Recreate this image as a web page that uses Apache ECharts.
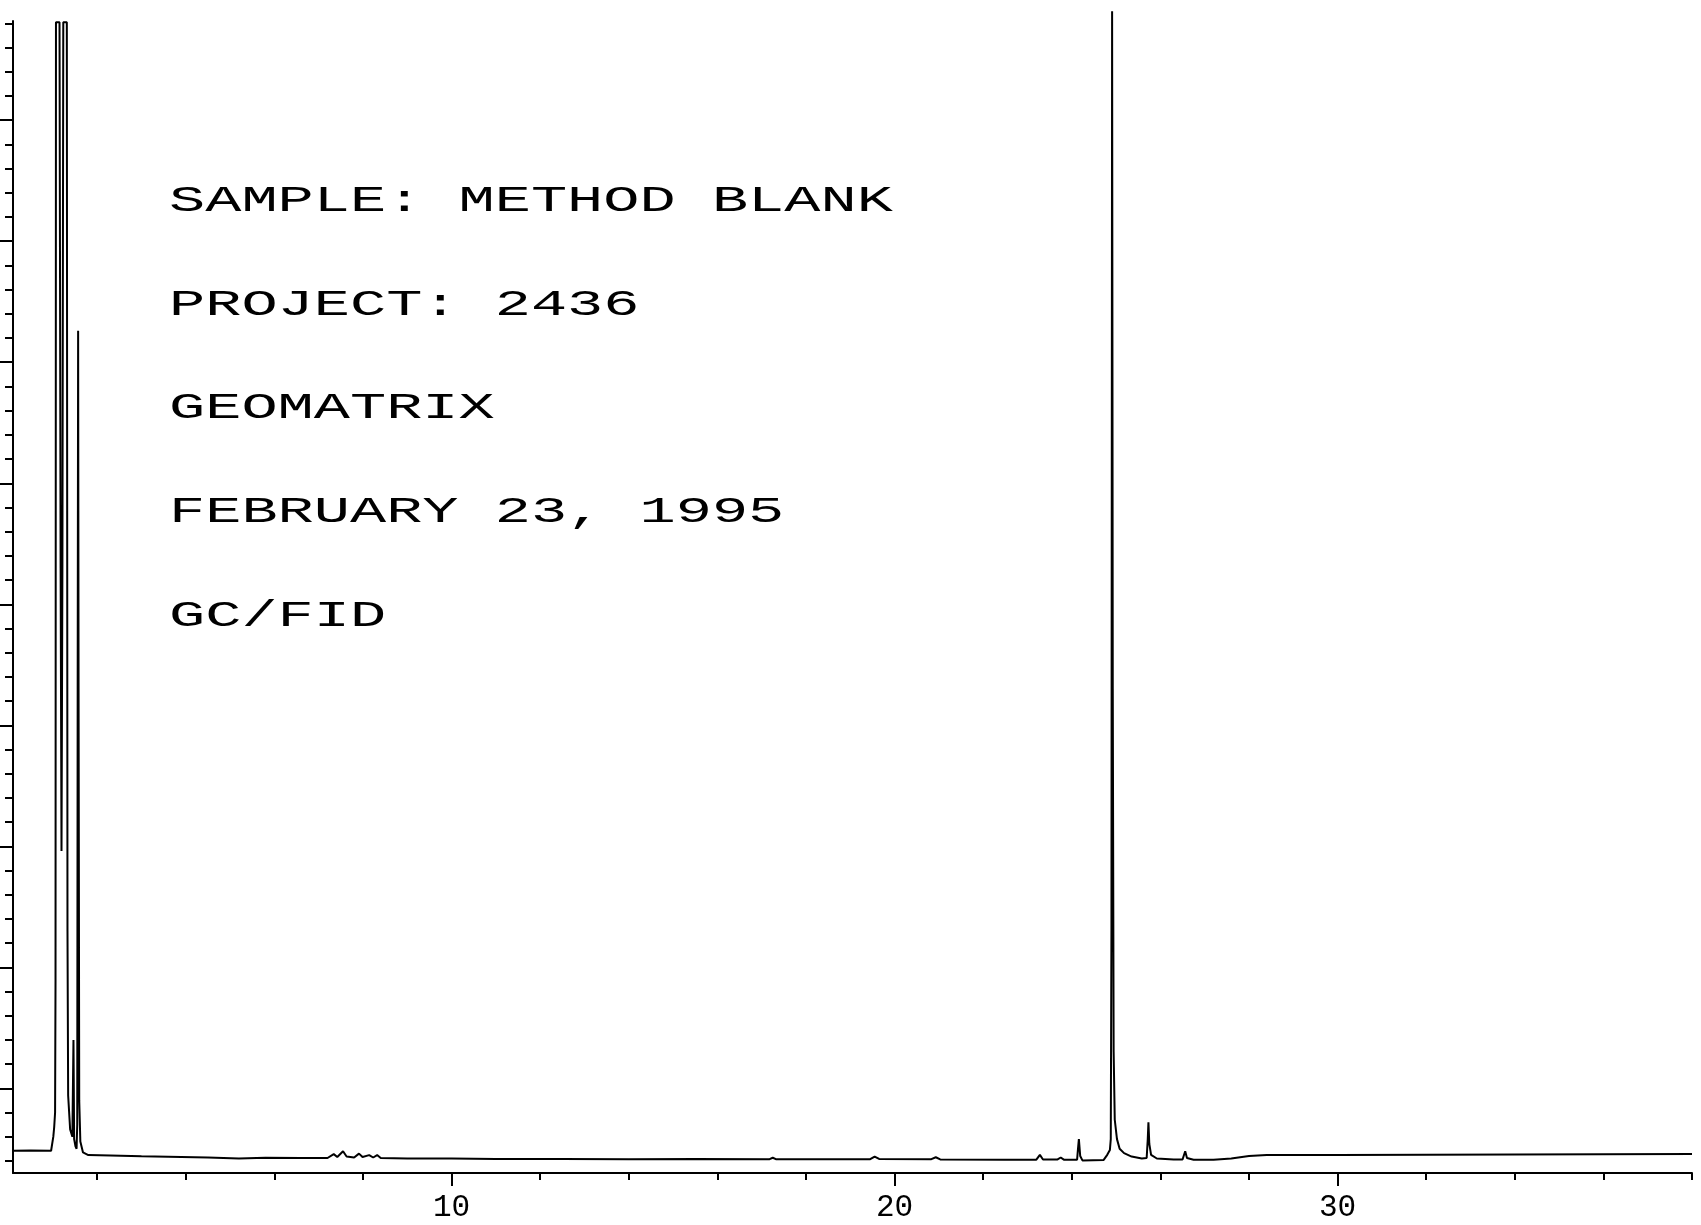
<!DOCTYPE html>
<html>
<head>
<meta charset="utf-8">
<title>Method blank chromatogram</title>
<script src="https://cdn.jsdelivr.net/npm/echarts@6/dist/echarts.min.js"></script>
<style>
  html, body { margin: 0; padding: 0; background: #fff; }
  #chart { width: 1701px; height: 1225px; }
</style>
</head>
<body>
<div id="chart"></div>
<script>
// retention time (min) and detector response
const retentionTime = [
  0.1, 0.5, 0.96, 0.99, 1.01, 1.03, 1.05, 1.06, 1.07, 1.15,
  1.175, 1.195, 1.215, 1.235, 1.315, 1.33, 1.345, 1.39, 1.44, 1.465,
  1.48, 1.51, 1.535, 1.55, 1.56, 1.57, 1.58, 1.595, 1.62, 1.68,
  1.8, 2.3, 3.0, 3.6, 4.5, 5.2, 5.8, 6.6,
  7.2, 7.34, 7.42, 7.55, 7.63, 7.8, 7.91, 7.99, 8.14, 8.23,
  8.32, 8.4, 9.0, 10.0, 11.0, 12.5, 14.0, 15.5, 17.18, 17.25,
  17.32, 19.45, 19.55, 19.65, 20.83, 20.93, 21.03, 22.5, 23.2, 23.28,
  23.35, 23.68, 23.75, 23.82, 24.12, 24.14, 24.16, 24.19, 24.24, 24.72,
  24.8, 24.86, 24.88, 24.895, 24.91, 24.925, 24.945, 24.97, 25.02, 25.08,
  25.18, 25.35, 25.58, 25.69, 25.715, 25.73, 25.75, 25.79, 25.92, 26.3,
  26.5, 26.56, 26.6, 26.75, 27.2, 27.6, 28.0, 28.4, 30.0, 32.0,
  34.0, 36.0, 38.0
];
const detectorSignal = [
  0.92, 0.93, 0.92, 0.95, 1.5, 1.9, 2.5, 8.0, 47.55, 47.55,
  25, 13.3, 25, 47.55, 47.55, 10, 3.2, 1.8, 1.5, 5.5,
  1.4, 1.1, 1.0, 2.0, 20, 34.8, 20, 3.0, 1.3, 0.85,
  0.74, 0.72, 0.69, 0.67, 0.64, 0.6, 0.63, 0.62,
  0.62, 0.78, 0.66, 0.9, 0.68, 0.64, 0.8, 0.66, 0.74, 0.64,
  0.74, 0.62, 0.6, 0.6, 0.58, 0.58, 0.57, 0.58, 0.57, 0.63,
  0.57, 0.57, 0.68, 0.58, 0.57, 0.65, 0.56, 0.55, 0.55, 0.75,
  0.56, 0.56, 0.64, 0.55, 0.55, 1.0, 1.4, 0.7, 0.52, 0.54,
  0.75, 0.95, 1.4, 10, 48.0, 20, 5, 2.2, 1.4, 1.0,
  0.82, 0.68, 0.6, 0.62, 1.4, 2.1, 1.2, 0.75, 0.6, 0.56,
  0.56, 0.9, 0.62, 0.55, 0.55, 0.6, 0.7, 0.74, 0.74, 0.75,
  0.76, 0.77, 0.78
];

// axis marks
const timeTicks = [2, 4, 6, 8, 10, 12, 14, 16, 18, 20, 22, 24, 26, 28, 30, 32, 34, 36, 38];
const timeLabels = [10, 20, 30];
const responseTicks = [
  0.5, 1.5, 2.5, 3.5, 4.5, 5.5, 6.5, 7.5, 8.5, 9.5, 10.5, 11.5,
  12.5, 13.5, 14.5, 15.5, 16.5, 17.5, 18.5, 19.5, 20.5, 21.5, 22.5, 23.5,
  24.5, 25.5, 26.5, 27.5, 28.5, 29.5, 30.5, 31.5, 32.5, 33.5, 34.5, 35.5,
  36.5, 37.5, 38.5, 39.5, 40.5, 41.5, 42.5, 43.5, 44.5, 45.5, 46.5, 47.5
];
const responseLongTicks = [3.5, 8.5, 13.5, 18.5, 23.5, 28.5, 33.5, 38.5, 43.5];

const infoLines = [
  'SAMPLE: METHOD BLANK',
  'PROJECT: 2436',
  'GEOMATRIX',
  'FEBRUARY 23, 1995',
  'GC/FID'
];

const chart = echarts.init(document.getElementById('chart'));

const trace = retentionTime.map((t, i) => [t, detectorSignal[i]]);
const ink = '#000';
const plotFont = '"Liberation Mono", monospace';

chart.setOption({
  animation: false,
  backgroundColor: '#fff',
  grid: { left: 13, right: 9, top: 21, bottom: 52 },
  xAxis: [
    {
      type: 'value', min: 0.1, max: 38,
      axisLine: { show: true, onZero: false, lineStyle: { color: ink, width: 2 } },
      axisTick: { show: true, inside: false, length: 7, customValues: timeTicks,
        lineStyle: { color: ink, width: 2 } },
      axisLabel: { show: true, customValues: timeLabels, margin: 19,
        color: ink, fontFamily: plotFont, fontSize: 31 },
      splitLine: { show: false }
    },
    {
      type: 'value', min: 0.1, max: 38, position: 'bottom',
      axisLine: { show: false },
      axisTick: { show: true, inside: false, length: 13, customValues: timeLabels,
        lineStyle: { color: ink, width: 2 } },
      axisLabel: { show: false },
      splitLine: { show: false }
    }
  ],
  yAxis: [
    {
      type: 'value', min: 0, max: 47.6,
      axisLine: { show: true, onZero: false, lineStyle: { color: ink, width: 2 } },
      axisTick: { show: true, inside: false, length: 8, customValues: responseTicks,
        lineStyle: { color: ink, width: 2 } },
      axisLabel: { show: false },
      splitLine: { show: false }
    },
    {
      type: 'value', min: 0, max: 47.6, position: 'left',
      axisLine: { show: false },
      axisTick: { show: true, inside: false, length: 13, customValues: responseLongTicks,
        lineStyle: { color: ink, width: 2 } },
      axisLabel: { show: false },
      splitLine: { show: false }
    }
  ],
  graphic: infoLines.map((line, i) => ({
    type: 'text',
    x: 169,
    y: 201 + i * 103.8,
    scaleX: 1.63,
    silent: true,
    style: {
      text: line,
      fill: ink,
      fontFamily: plotFont,
      fontSize: 37,
      verticalAlign: 'middle'
    }
  })),
  series: [
    {
      type: 'line',
      xAxisIndex: 0,
      yAxisIndex: 0,
      data: trace,
      showSymbol: false,
      clip: false,
      lineStyle: { color: ink, width: 2 }
    }
  ]
});
</script>
</body>
</html>
